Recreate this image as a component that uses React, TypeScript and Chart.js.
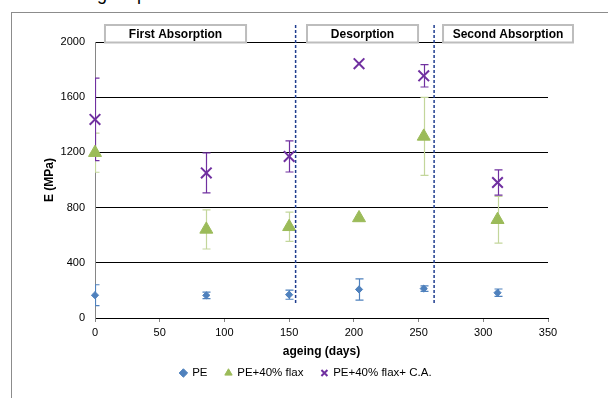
import React, { useEffect, useRef } from 'react';
import { Chart, registerables } from 'chart.js';

Chart.register(...registerables);

// ---- data ----
const ageingDays = [0, 86, 150, 204, 254, 311];

const peValues = [165, 164, 169, 207, 213, 183];
const peErrors = [76, 23, 33, 77, 20, 27];

const flaxValues = [1198, 642, 661, 725, 1316, 712];
const flaxErrors = [142, 142, 106, 0, 283, 169];

const flaxCAValues = [1439, 1051, 1171, 1843, 1755, 982];
const flaxCAErrors = [299, 145, 113, 0, 81, 91];

const seriesNames = ['PE', 'PE+40% flax', 'PE+40% flax+ C.A.'];
const phaseBoundaries = [155, 262];
const phaseLabels = ['First Absorption', 'Desorption', 'Second Absorption'];
const phaseLabelRanges = [
  [7.7, 116.7],
  [163.8, 249.6],
  [268.9, 369.3],
];

const yMin = 0;
const yMax = 2000;
const yStep = 400;
const xMin = 0;
const xMax = 350;
const xStep = 50;

const FONT = "'Liberation Sans', Arial, Helvetica, sans-serif";

const errorSets = [peErrors, flaxErrors, flaxCAErrors];
const errorColors = ['#4F81BD', '#C3D69B', '#7030A0'];

const errorBarPlugin = {
  id: 'errorBars',
  beforeDatasetsDraw(chart: any) {
    const { ctx, chartArea, scales } = chart;
    const xs = scales.x;
    const ys = scales.y;
    ctx.save();
    ctx.beginPath();
    ctx.rect(chartArea.left, chartArea.top, chartArea.right - chartArea.left, chartArea.bottom - chartArea.top);
    ctx.clip();
    chart.data.datasets.forEach((ds: any, di: number) => {
      const errs = errorSets[di];
      ctx.strokeStyle = errorColors[di];
      ctx.lineWidth = 1.2;
      ds.data.forEach((pt: any, i: number) => {
        const e = errs[i];
        if (!e) return;
        const px = Math.round(xs.getPixelForValue(pt.x)) + 0.5;
        const top = ys.getPixelForValue(pt.y + e);
        const bot = ys.getPixelForValue(pt.y - e);
        ctx.beginPath();
        ctx.moveTo(px, top);
        ctx.lineTo(px, bot);
        ctx.moveTo(px - 4, top);
        ctx.lineTo(px + 4, top);
        ctx.moveTo(px - 4, bot);
        ctx.lineTo(px + 4, bot);
        ctx.stroke();
      });
    });
    ctx.restore();
  },
};

const phasePlugin = {
  id: 'phases',
  afterLayout(chart: any) {
    const lg = chart.legend;
    if (lg) {
      const dx = 32;
      lg.left += dx;
      lg.right += dx;
      const h = lg.height;
      lg.top = 349.25;
      lg.bottom = lg.top + h;
    }
  },
  afterDraw(chart: any) {
    const { ctx, chartArea, scales } = chart;
    const xs = scales.x;
    const ys = scales.y;
    ctx.save();
    // dashed boundaries
    ctx.strokeStyle = '#1F3D8F';
    ctx.lineWidth = 1.5;
    ctx.setLineDash([3, 2]);
    phaseBoundaries.forEach((b) => {
      const px = xs.getPixelForValue(b);
      ctx.beginPath();
      ctx.moveTo(px, chartArea.top - 17);
      ctx.lineTo(px, ys.getPixelForValue(95));
      ctx.stroke();
    });
    ctx.setLineDash([]);
    // label boxes
    phaseLabels.forEach((label, i) => {
      const [a, b] = phaseLabelRanges[i];
      const l = xs.getPixelForValue(a);
      const r = xs.getPixelForValue(b);
      const t = chartArea.top - 17;
      const bt = chartArea.top + 0.5;
      ctx.fillStyle = '#ffffff';
      ctx.fillRect(l, t, r - l, bt - t);
      ctx.strokeStyle = '#BDBDBD';
      ctx.lineWidth = 2;
      ctx.strokeRect(l, t, r - l, bt - t);
      ctx.fillStyle = '#000';
      ctx.font = `bold 12px ${FONT}`;
      ctx.textAlign = 'center';
      ctx.textBaseline = 'middle';
      ctx.fillText(label, (l + r) / 2, (t + bt) / 2 + 0.5);
    });
    ctx.restore();
  },
};

export default function App() {
  const canvasRef = useRef<HTMLCanvasElement | null>(null);

  useEffect(() => {
    if (!canvasRef.current) return;
    const toPts = (vals: number[]) => ageingDays.map((d, i) => ({ x: d, y: vals[i] }));
    const chart = new Chart(canvasRef.current, {
      type: 'scatter',
      data: {
        datasets: [
          {
            label: seriesNames[0],
            data: toPts(peValues),
            pointStyle: 'rectRot',
            pointRadius: 3.6,
            backgroundColor: '#4F81BD',
            borderColor: '#4F81BD',
            borderWidth: 1,
            clip: false as any,
          },
          {
            label: seriesNames[1],
            data: toPts(flaxValues),
            pointStyle: 'triangle',
            pointRadius: 7.5,
            backgroundColor: '#9BBB59',
            borderColor: '#9BBB59',
            borderWidth: 1,
            clip: false as any,
          },
          {
            label: seriesNames[2],
            data: toPts(flaxCAValues),
            pointStyle: 'crossRot',
            pointRadius: 7.5,
            backgroundColor: '#7030A0',
            borderColor: '#7030A0',
            borderWidth: 2,
            clip: false as any,
          },
        ],
      },
      options: {
        animation: false,
        responsive: false,
        maintainAspectRatio: false,
        layout: { padding: { left: 0, right: 60, top: 42, bottom: 0 } },
        plugins: {
          tooltip: { enabled: false },
          legend: {
            position: 'bottom',
            labels: {
              usePointStyle: true,
              boxWidth: 6,
              boxHeight: 6,
              padding: 18,
              color: '#000',
              font: { family: FONT, size: 11.5 },
            },
          },
        },
        scales: {
          x: {
            type: 'linear',
            min: xMin,
            max: xMax,
            afterFit: (s: any) => {
              s.height = 40.5;
            },
            ticks: {
              stepSize: xStep,
              color: '#000',
              padding: 4,
              font: { family: FONT, size: 11 },
              maxRotation: 0,
              callback: (v: any) => String(v),
            },
            grid: {
              display: true,
              drawOnChartArea: false,
              drawTicks: true,
              tickLength: 4,
              color: '#868686',
            },
            border: { color: '#000', width: 1 },
            title: {
              display: true,
              text: 'ageing (days)',
              color: '#000',
              font: { family: FONT, size: 12, weight: 'bold' },
              padding: { top: 0, bottom: 0 },
            },
          },
          y: {
            type: 'linear',
            min: yMin,
            max: yMax,
            afterFit: (s: any) => {
              s.width = 95;
            },
            ticks: {
              stepSize: yStep,
              color: '#000',
              padding: 10,
              font: { family: FONT, size: 11 },
              callback: (v: any) => String(v),
            },
            grid: {
              color: '#000',
              lineWidth: 1,
              drawTicks: false,
            },
            border: { color: '#868686', width: 1 },
            title: {
              display: true,
              text: 'E (MPa)',
              color: '#000',
              font: { family: FONT, size: 12, weight: 'bold' },
              padding: { top: 42.8, bottom: 0 },
            },
          },
        },
      },
      plugins: [errorBarPlugin, phasePlugin],
    });
    return () => chart.destroy();
  }, []);

  return (
    <div
      style={{
        position: 'fixed',
        left: 0,
        top: 0,
        width: 608,
        height: 398,
        overflow: 'hidden',
        background: '#fff',
      }}
    >
      <span
        style={{
          position: 'absolute',
          left: 97,
          top: -15,
          fontFamily: FONT,
          fontSize: 18,
          lineHeight: '18px',
          color: '#000',
        }}
      >
        g
      </span>
      <span
        style={{
          position: 'absolute',
          left: 137,
          top: -15,
          fontFamily: FONT,
          fontSize: 18,
          lineHeight: '18px',
          color: '#000',
        }}
      >
        p
      </span>
      <div
        style={{
          position: 'absolute',
          left: 11,
          top: 12,
          width: 700,
          height: 500,
          border: '1px solid #8C8C8C',
          boxSizing: 'border-box',
        }}
      />
      <canvas
        ref={canvasRef}
        width={608}
        height={398}
        style={{ position: 'absolute', left: 0, top: 0, width: 608, height: 398 }}
      />
    </div>
  );
}
